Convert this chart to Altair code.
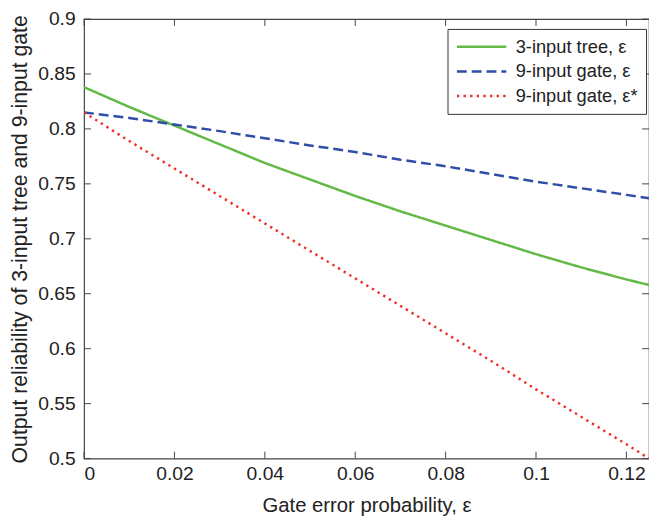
import altair as alt
import pandas as pd

# ---- data ----
eps = [0.0, 0.01, 0.02, 0.03, 0.04, 0.05, 0.06, 0.07, 0.08, 0.09, 0.10, 0.11, 0.12, 0.125]
tree3 = [0.838, 0.820, 0.803, 0.786, 0.769, 0.754, 0.739, 0.725, 0.712, 0.699, 0.686, 0.674, 0.663, 0.658]
gate9 = [0.815, 0.810, 0.804, 0.798, 0.7915, 0.785, 0.779, 0.772, 0.766, 0.759, 0.752, 0.746, 0.740, 0.737]
gate9_star = [0.815, 0.789, 0.764, 0.739, 0.714, 0.689, 0.664, 0.639, 0.614, 0.589, 0.563, 0.538, 0.513, 0.500]

series_names = ["3-input tree, ε", "9-input gate, ε", "9-input gate, ε*"]
series_colors = ["#63b946", "#2f4ea6", "#f0302b"]
series_dash = [[1, 0], [10, 5], [2.4, 4.3]]

x_ticks = [0, 0.02, 0.04, 0.06, 0.08, 0.10, 0.12]
y_ticks = [0.5, 0.55, 0.6, 0.65, 0.7, 0.75, 0.8, 0.85, 0.9]

rows = []
for name, vals in zip(series_names, [tree3, gate9, gate9_star]):
    for e, v in zip(eps, vals):
        rows.append({"eps": e, "rel": v, "series": name})
df = pd.DataFrame(rows)

W, H = 572, 445
FONT = "Liberation Sans"
AX = "#444444"
TXT = "#222222"
TL = 7

xscale = alt.Scale(domain=[0, 0.125], nice=False, zero=False)
yscale = alt.Scale(domain=[0.5, 0.9], nice=False, zero=False)

legend_kw = dict(title=None, orient="none", legendX=368, legendY=10,
                 symbolType="stroke", symbolSize=2500, symbolStrokeWidth=2.5,
                 labelFont=FONT, labelFontSize=18.5, labelColor=TXT,
                 labelOffset=8, clipHeight=20, rowPadding=5, padding=8,
                 fillColor="white", strokeColor="#333333")

lines = alt.Chart(df).mark_line(strokeWidth=2.5, clip=True).encode(
    x=alt.X("eps:Q", scale=xscale,
            axis=alt.Axis(title="Gate error probability, ε", values=x_ticks,
                          format="~g", ticks=False, domain=False, grid=False,
                          labelFont=FONT, labelFontSize=19.5, labelColor=TXT,
                          labelPadding=6, titleFont=FONT, titleFontSize=20.5,
                          titleFontWeight="normal", titleColor=TXT,
                          titlePadding=13)),
    y=alt.Y("rel:Q", scale=yscale,
            axis=alt.Axis(title="Output reliability of 3-input tree and 9-input gate",
                          values=y_ticks, format="~g", ticks=False, domain=False,
                          grid=False, labelFont=FONT, labelFontSize=19.5,
                          labelColor=TXT, labelPadding=9, titleFont=FONT,
                          titleFontSize=21.5, titleFontWeight="normal",
                          titleColor=TXT, titlePadding=6)),
    color=alt.Color("series:N", sort=series_names,
                    scale=alt.Scale(domain=series_names, range=series_colors),
                    legend=alt.Legend(**legend_kw)),
    strokeDash=alt.StrokeDash("series:N", sort=series_names,
                              scale=alt.Scale(domain=series_names, range=series_dash),
                              legend=alt.Legend(**legend_kw)),
)

xt = pd.DataFrame({"x": x_ticks})
yt = pd.DataFrame({"y": y_ticks})

bottom_ticks = alt.Chart(xt).mark_rule(color=AX, strokeWidth=1).encode(
    x=alt.X("x:Q", scale=xscale), y=alt.value(H), y2=alt.value(H - TL))
top_ticks = alt.Chart(xt).mark_rule(color=AX, strokeWidth=1).encode(
    x=alt.X("x:Q", scale=xscale), y=alt.value(0), y2=alt.value(TL))
left_ticks = alt.Chart(yt).mark_rule(color=AX, strokeWidth=1).encode(
    y=alt.Y("y:Q", scale=yscale), x=alt.value(0), x2=alt.value(TL))
right_ticks = alt.Chart(yt).mark_rule(color=AX, strokeWidth=1).encode(
    y=alt.Y("y:Q", scale=yscale), x=alt.value(W), x2=alt.value(W - TL))

chart = alt.layer(bottom_ticks, top_ticks, left_ticks, right_ticks, lines).properties(
    width=W, height=H,
    autosize=alt.AutoSizeParams(type="none"),
    padding={"left": 77, "top": 8, "right": 0, "bottom": 58},
    background="white",
).configure_view(stroke=AX, strokeWidth=1.2)

chart.save("out.html", embed_options={"renderer": "svg", "actions": False})
